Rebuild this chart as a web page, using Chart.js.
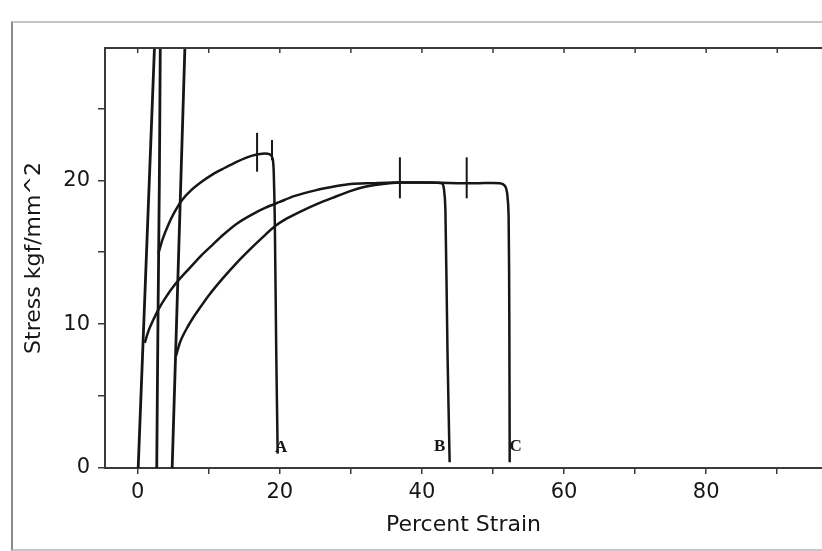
<!DOCTYPE html>
<html>
<head>
<meta charset="utf-8">
<script src="https://cdn.jsdelivr.net/npm/chart.js@4/dist/chart.umd.min.js"></script>
<style>
  html, body { margin: 0; padding: 0; background: #ffffff; }
  #wrap { position: relative; width: 822px; height: 551px; overflow: hidden; background: #fff; }
  #frame { position: absolute; left: 11px; top: 21px; width: 830px; height: 526px;
           border-left: 2px solid #8a8a8a; border-top: 2px solid #c4c4c4; border-bottom: 2px solid #c8c8c8; }
  canvas { position: absolute; left: 0; top: 0; }
</style>
</head>
<body>
<div id="wrap">
  <div id="frame"></div>
  <canvas id="c" width="822" height="551"></canvas>
</div>
<script>
// ---- axis tick labels ----
const xTickLabels = [0, 20, 40, 60, 80];
const yTickLabels = [0, 10, 20];

// ---- steep elastic loading lines (run off the top of the plot) ----
const line1Strain = [0.07, 2.5];
const line1Stress = [0, 31];
const line2Strain = [2.68, 2.85, 3.05, 3.2];
const line2Stress = [0, 10, 20, 31];
const line3Strain = [4.85, 6.75];
const line3Stress = [0, 31];

// ---- specimen A ----
const curveAStrain = [2.9, 3.5, 4.3, 5.2, 6.2, 7.5, 9, 10.5, 12, 14, 16, 17.5, 18.6, 19.0, 19.15, 19.3, 19.5, 19.7];
const curveAStress = [14.9, 15.9, 16.9, 17.8, 18.6, 19.3, 19.9, 20.4, 20.8, 21.3, 21.7, 21.85, 21.8, 21.5, 20.5, 17, 8, 1.0];

// ---- specimen B (upper curve, starts at 0 strain) ----
const curveBStrain = [1.0, 1.5, 2.2, 3, 4, 5, 6, 7.5, 9, 10.5, 12, 14, 16, 18, 20, 22, 25, 28, 30, 33, 36, 40, 42.8, 43.1, 43.3, 43.6, 43.9];
const curveBStress = [8.7, 9.5, 10.3, 11.1, 11.9, 12.6, 13.2, 14.0, 14.8, 15.5, 16.2, 17.0, 17.6, 18.1, 18.5, 18.9, 19.3, 19.6, 19.75, 19.8, 19.85, 19.85, 19.8, 19.4, 18, 8, 0.4];

// ---- specimen C (lower curve) ----
const curveCStrain = [5.4, 6.0, 6.9, 8, 8.7, 10, 12, 14, 15.8, 17.5, 19.3, 21, 23.2, 25.2, 27.5, 29.9, 32, 34.5, 37, 40, 45, 48, 51, 51.7, 52.0, 52.2, 52.3, 52.35];
const curveCStress = [7.8, 8.8, 9.7, 10.6, 11.1, 12.0, 13.2, 14.3, 15.2, 16.0, 16.8, 17.35, 17.9, 18.35, 18.8, 19.25, 19.55, 19.75, 19.85, 19.85, 19.8, 19.8, 19.8, 19.6, 19.1, 17.5, 10, 0.4];

// ---- short vertical marker ticks on the curves ----
const markerStrain = [16.8, 18.9, 36.9, 46.3];
const markerLow    = [20.6, 21.4, 18.75, 18.75];
const markerHigh   = [23.3, 22.8, 21.6, 21.6];

// ---- curve end labels ----
const endLabels      = ['A', 'B', 'C'];
const endLabelStrain = [20.2, 42.5, 53.2];
const endLabelStress = [1.4, 1.5, 1.5];

const INK = '#161616';
const pts = (xs, ys) => xs.map((x, i) => ({ x: x, y: ys[i] }));

function curve(xs, ys, w) {
  return {
    data: pts(xs, ys),
    borderColor: INK,
    borderWidth: w,
    pointRadius: 0,
    showLine: true,
    tension: 0.25,
    fill: false
  };
}

const datasets = [
  curve(line1Strain, line1Stress, 2.8),
  curve(line2Strain, line2Stress, 2.8),
  curve(line3Strain, line3Stress, 2.8),
  curve(curveAStrain, curveAStress, 2.5),
  curve(curveBStrain, curveBStress, 2.5),
  curve(curveCStrain, curveCStress, 2.5)
];
markerStrain.forEach((s, i) => {
  const d = curve([s, s], [markerLow[i], markerHigh[i]], 2);
  d.tension = 0;
  datasets.push(d);
});

// top frame line with inward ticks, plus A/B/C labels
const decor = {
  id: 'decor',
  afterDatasetsDraw(chart) {
    const { ctx, chartArea, scales } = chart;
    const xs = scales.x, ys = scales.y;
    ctx.save();
    ctx.strokeStyle = '#3a3a3a';
    ctx.lineWidth = 2;
    ctx.beginPath();
    ctx.moveTo(chartArea.left, chartArea.top);
    ctx.lineTo(chartArea.right + 2, chartArea.top);
    ctx.stroke();
    ctx.lineWidth = 1.5;
    xs.ticks.forEach(t => {
      const px = xs.getPixelForValue(t.value);
      ctx.beginPath();
      ctx.moveTo(px, chartArea.top);
      ctx.lineTo(px, chartArea.top + 5);
      ctx.stroke();
    });
    ctx.fillStyle = INK;
    ctx.font = 'bold 17px "Liberation Serif", "DejaVu Serif", serif';
    ctx.textAlign = 'center';
    ctx.textBaseline = 'middle';
    endLabels.forEach((l, i) => {
      ctx.fillText(l, xs.getPixelForValue(endLabelStrain[i]), ys.getPixelForValue(endLabelStress[i]));
    });
    ctx.restore();
  }
};

const tickFont = { family: '"DejaVu Sans", sans-serif', size: 21 };
const titleFont = { family: '"DejaVu Sans", sans-serif', size: 22 };

new Chart(document.getElementById('c'), {
  type: 'scatter',
  data: { datasets: datasets },
  options: {
    responsive: false,
    animation: false,
    devicePixelRatio: 1,
    layout: { padding: { left: 0, top: 48, right: 0, bottom: 0 } },
    plugins: { legend: { display: false }, tooltip: { enabled: false } },
    scales: {
      x: {
        type: 'linear',
        min: -4.6,
        max: 96.3,
        afterFit: s => { s.height = 83; },
        border: { display: true, color: '#3a3a3a', width: 2 },
        grid: { display: true, drawOnChartArea: false, drawTicks: true, tickLength: 6, color: '#3a3a3a', lineWidth: 1.5 },
        ticks: {
          stepSize: 10,
          autoSkip: false,
          includeBounds: false,
          maxRotation: 0,
          color: INK,
          font: tickFont,
          padding: 6,
          callback: v => (xTickLabels.includes(v) ? String(v) : '')
        },
        title: { display: true, text: 'Percent Strain', color: INK, font: titleFont, padding: { top: 0, bottom: 13 } }
      },
      y: {
        type: 'linear',
        min: 0,
        max: 29.2,
        afterFit: s => { s.width = 105; },
        border: { display: true, color: '#3a3a3a', width: 2 },
        grid: { display: true, drawOnChartArea: false, drawTicks: true, tickLength: 7, color: '#3a3a3a', lineWidth: 1.5 },
        ticks: {
          stepSize: 5,
          autoSkip: false,
          includeBounds: false,
          color: INK,
          font: tickFont,
          padding: 8,
          callback: v => (yTickLabels.includes(v) ? String(v) : '')
        },
        title: { display: true, text: 'Stress kgf/mm^2', color: INK, font: titleFont, padding: { top: 21, bottom: 0 } }
      }
    }
  },
  plugins: [decor]
});
</script>
</body>
</html>
